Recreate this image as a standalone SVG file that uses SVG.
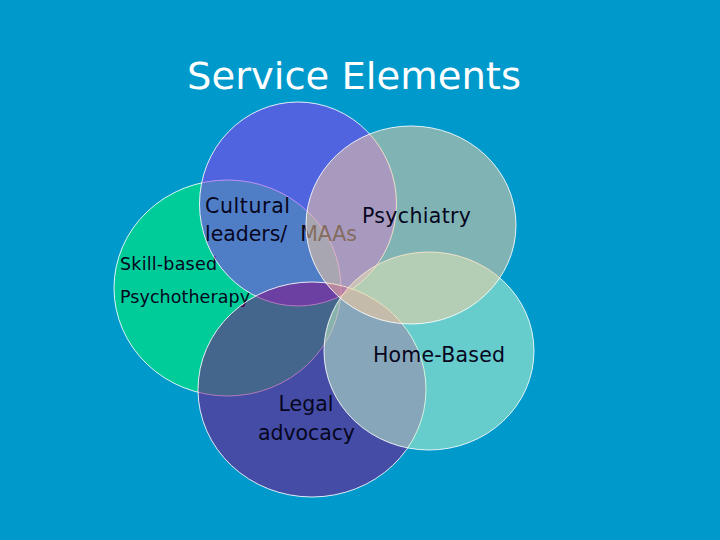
<svg xmlns="http://www.w3.org/2000/svg" width="720" height="540" viewBox="0 0 720 540">
<style>
.c{fill-opacity:0.5;stroke:#ffffff;stroke-opacity:0.85;stroke-width:1}
.t{font-family:"DejaVu Sans","Liberation Sans",sans-serif;fill:#06061e}
.s{font-size:17.5px}
.m{font-size:20.5px}
.title{font-family:"DejaVu Sans","Liberation Sans",sans-serif;font-size:38px;fill:#ffffff}
</style>
<rect x="0" y="0" width="720" height="540" fill="#0099cc"/>
<text class="title" x="187" y="89" textLength="334" lengthAdjust="spacingAndGlyphs">Service Elements</text>
<g id="skill-based">
<ellipse class="c" cx="227.5" cy="288" rx="113.5" ry="108" fill="#00ff66"/>
<text class="t s" x="120" y="270" textLength="97">Skill-based</text>
<text class="t s" x="120" y="303" textLength="130">Psychotherapy</text>
</g>
<g id="cultural">
<ellipse class="c" cx="298" cy="204" rx="98.5" ry="102" fill="#a02ff4"/>
<text class="t m" x="205" y="213" textLength="85">Cultural</text>
<text class="t m" x="205" y="241" textLength="152" xml:space="preserve">leaders/  MAAs</text>
</g>
<g id="legal">
<ellipse class="c" cx="312" cy="389.5" rx="114" ry="107.5" fill="#880080"/>
<text class="t m" x="306" y="411" text-anchor="middle">Legal</text>
<text class="t m" x="306.5" y="440" text-anchor="middle" textLength="97">advocacy</text>
</g>
<g id="home-based">
<ellipse class="c" cx="429" cy="351" rx="105" ry="99" fill="#ccffcc"/>
<text class="t m" x="373" y="362" textLength="132">Home-Based</text>
</g>
<g id="psychiatry">
<ellipse class="c" cx="411" cy="225" rx="105" ry="99" fill="#ffcf9c"/>
<text class="t m" x="362" y="223" textLength="109">Psychiatry</text>
</g>
<g id="connectors"></g>
</svg>
